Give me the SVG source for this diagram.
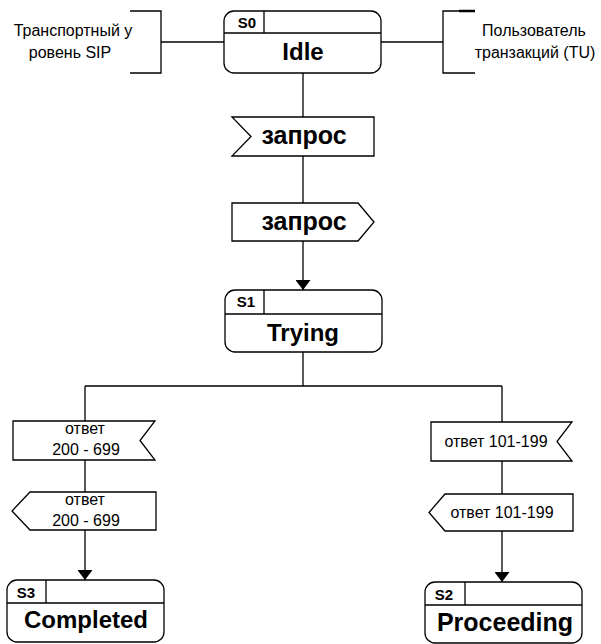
<svg xmlns="http://www.w3.org/2000/svg" width="601" height="644" viewBox="0 0 601 644">
<defs>
<style>
.ln{fill:none;stroke:#000;stroke-width:1.3}
.box{fill:#fff;stroke:#000;stroke-width:1.3}
.t{font-family:"Liberation Sans",Arial,sans-serif;fill:#000;text-anchor:middle}
.sid{font-size:15px;font-weight:bold}
.sn{font-size:24px;font-weight:bold}
.sig{font-size:25px;font-weight:bold}
.sm{font-size:16px}
</style>
<marker id="ah" viewBox="0 0 10 15" refX="10" refY="7.5" markerWidth="10" markerHeight="15" orient="auto" markerUnits="userSpaceOnUse">
<path d="M0,0 L10,7.5 L0,15 Z" fill="#000" transform="rotate(0)"/>
</marker>
</defs>
<rect width="601" height="644" fill="#fff"/>
<g id="connectors">
<path class="ln" d="M161,42 H224"/>
<path class="ln" d="M381,42 H443"/>
<path class="ln" d="M303,73 V117"/>
<path class="ln" d="M303,156 V203"/>
<path class="ln" d="M303,241 V290" marker-end="url(#ah)"/>
<path class="ln" d="M303,352 V386 M85,386 H502 M85,386 V421 M502,386 V422"/>
<path class="ln" d="M85,460 V492"/>
<path class="ln" d="M85,530 V580" marker-end="url(#ah)"/>
<path class="ln" d="M502,461 V494"/>
<path class="ln" d="M502,531 V582" marker-end="url(#ah)"/>
</g>
<g id="env-sip">
<path class="ln" d="M130,11 H161 V73 H130"/>
<text class="t sm" x="73" y="36">Транспортный у</text>
<text class="t sm" x="70" y="58">ровень SIP</text>
</g>
<g id="env-tu">
<path class="ln" d="M475,11 H443 V73 H475"/>
<path d="M459,11 H475" stroke="#000" stroke-width="2.5"/>
<text class="t sm" x="534" y="36">Пользователь</text>
<text class="t sm" x="535" y="58">транзакций (TU)</text>
</g>
<g id="s0">
<rect class="box" x="224" y="11" width="157" height="62" rx="10"/>
<path class="ln" d="M224,33 H381 M264,11 V33"/>
<text class="t sid" x="247" y="28">S0</text>
<text class="t sn" x="303" y="60">Idle</text>
</g>
<g id="in-request">
<path class="box" d="M232,117 H374 V156 H232 L251,136.5 Z"/>
<text class="t sig" x="304" y="144">запрос</text>
</g>
<g id="out-request">
<path class="box" d="M232,203 H358 L374,222 L358,241 H232 Z"/>
<text class="t sig" x="304" y="230">запрос</text>
</g>
<g id="s1">
<rect class="box" x="225" y="290" width="157" height="62" rx="10"/>
<path class="ln" d="M225,314 H382 M264,290 V314"/>
<text class="t sid" x="246" y="307">S1</text>
<text class="t sn" x="303" y="341">Trying</text>
</g>
<g id="in-final">
<path class="box" d="M13,421 H155 L140,440.5 L155,460 H13 Z"/>
<text class="t sm" x="85" y="434">ответ</text>
<text class="t sm" x="86" y="455">200 - 699</text>
</g>
<g id="out-final">
<path class="box" d="M30,492 H156 V530 H30 L12,511 Z"/>
<text class="t sm" x="85" y="505">ответ</text>
<text class="t sm" x="86" y="526">200 - 699</text>
</g>
<g id="in-prov">
<path class="box" d="M431,422 H572 L557,441.5 L572,461 H431 Z"/>
<text class="t sm" x="496" y="447">ответ 101-199</text>
</g>
<g id="out-prov">
<path class="box" d="M445,494 H573 V531 H445 L429,512.5 Z"/>
<text class="t sm" x="502" y="518">ответ 101-199</text>
</g>
<g id="s3">
<rect class="box" x="7" y="580" width="157" height="62" rx="10"/>
<path class="ln" d="M7,603 H164 M46,580 V603"/>
<text class="t sid" x="26" y="598">S3</text>
<text class="t sn" x="86" y="628">Completed</text>
</g>
<g id="s2">
<rect class="box" x="425" y="582" width="157" height="61" rx="10"/>
<path class="ln" d="M425,605 H582 M465,582 V605"/>
<text class="t sid" x="444" y="600">S2</text>
<text class="t sn" x="505" y="631" style="font-size:25px">Proceeding</text>
</g>
</svg>
